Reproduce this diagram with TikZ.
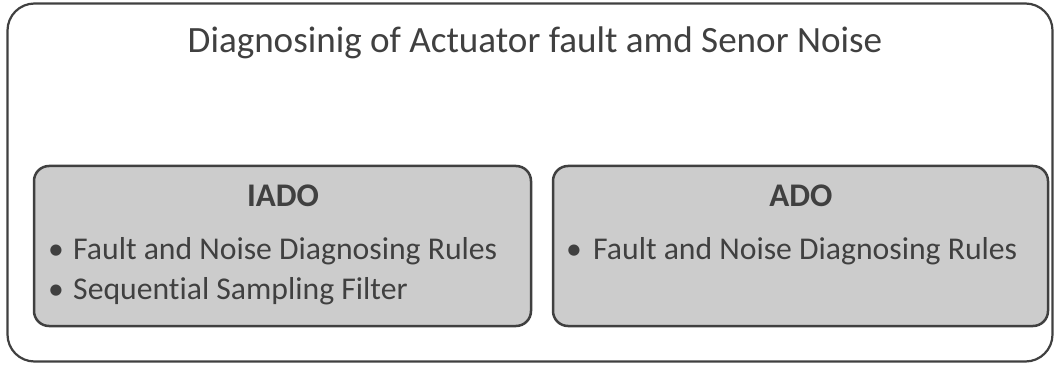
\documentclass[tikz,border=0pt]{standalone}
\usepackage{fontspec}
\setmainfont{Carlito}[Ligatures=NoCommon]
\definecolor{ink}{HTML}{404040}
\definecolor{boxfill}{HTML}{CCCCCC}
\begin{document}
\begin{tikzpicture}[x=1pt,y=-1pt,
  outerbox/.style={draw=ink,line width=2.2pt,rounded corners=27pt,rectangle,minimum width=1045pt,minimum height=358pt,inner sep=0pt},
  innerbox/.style={draw=ink,fill=boxfill,line width=2.5pt,rounded corners=15pt,rectangle,minimum height=160pt,inner sep=0pt},
  head/.style={font=\fontsize{33}{38}\selectfont\bfseries,text=ink,anchor=base,inner sep=0pt},
  item/.style={font=\fontsize{31.7}{38}\selectfont,text=ink,anchor=base west,inner sep=0pt},
  bul/.style={font=\fontsize{31.7}{38}\selectfont,text=ink,anchor=base,inner sep=0pt},
  title/.style={font=\fontsize{37.1}{44}\selectfont,text=ink,anchor=base,inner sep=0pt}]
\useasboundingbox (0,0) rectangle (1055,366);
\node[outerbox] (outer) at (530,182.5) {};
\node[title] (ttl) at (535,53) {Diagnosinig of Actuator fault amd Senor Noise};
\node[innerbox,minimum width=497pt] (iado) at (282.5,246) {};
\node[innerbox,minimum width=495pt] (ado) at (800.5,246) {};
\node[head] (iadoh) at (283,207) {IADO};
\node[head] (adoh) at (801,207) {ADO};
\node[bul] (b1) at (56,259) {•};
\node[item] (i1) at (73,259) {Fault and Noise Diagnosing Rules};
\node[bul] (b2) at (56,299) {•};
\node[item] (i2) at (73,299) {Sequential Sampling Filter};
\node[bul] (b3) at (574,259) {•};
\node[item] (a1) at (593,259) {Fault and Noise Diagnosing Rules};
\end{tikzpicture}
\end{document}
